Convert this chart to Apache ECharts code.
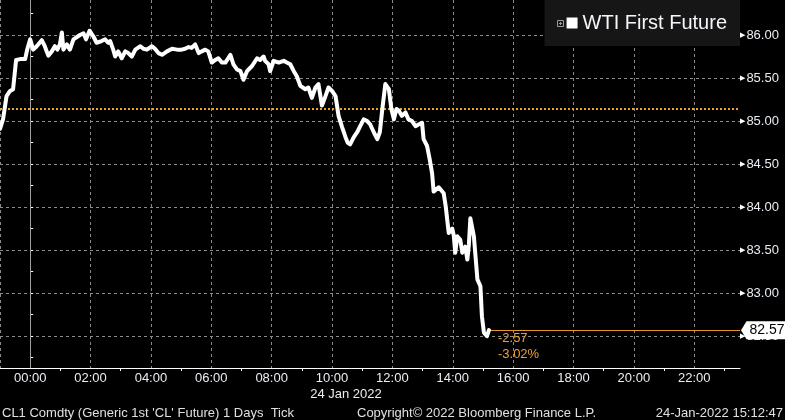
<!DOCTYPE html>
<html><head><meta charset="utf-8">
<script src="https://cdn.jsdelivr.net/npm/echarts@6/dist/echarts.min.js"></script>
<style>html,body{margin:0;padding:0;background:#000}#c{width:785px;height:420px}</style>
</head><body><div id="c"></div><script>
// Time in minutes from 00:00 on 24 Jan 2022 (negative = 23 Jan evening)
const times = [-60,-54,-47,-40,-34,-28,-20,-10,-6,0,6,13,23,29,36,43,49,54,59,63,66,73,79,86,99,106,111,118,126,132,142,149,155,159,165,169,175,182,189,195,202,209,219,225,232,242,248,255,262,272,282,292,301,308,315,321,328,335,341,348,354,361,368,374,381,388,398,404,411,418,424,431,441,451,457,464,467,474,477,484,494,504,510,517,524,527,530,537,547,553,560,567,573,580,587,593,600,607,613,620,627,631,636,643,650,656,663,670,676,683,690,695,700,706,713,718,723,728,733,739,746,752,759,766,772,779,782,789,794,799,802,812,822,826,832,839,842,845,849,855,859,865,869,872,875,882,889,895,898,902,908,912];
const prices = [84.91,85.02,85.29,85.35,85.37,85.71,85.72,85.72,85.83,85.95,85.83,85.87,85.94,85.87,85.76,85.81,85.87,85.83,85.89,86.03,85.83,85.89,85.83,85.95,86.00,86.02,85.95,86.05,85.98,85.91,85.93,85.95,85.91,85.93,85.83,85.75,85.81,85.73,85.81,85.79,85.75,85.83,85.87,85.84,85.83,85.87,85.84,85.79,85.77,85.81,85.84,85.83,85.83,85.84,85.86,85.85,85.89,85.79,85.81,85.83,85.81,85.68,85.71,85.73,85.68,85.68,85.77,85.66,85.60,85.58,85.48,85.58,85.64,85.73,85.71,85.75,85.70,85.66,85.58,85.70,85.68,85.70,85.68,85.66,85.58,85.60,85.52,85.41,85.37,85.39,85.27,85.39,85.43,85.18,85.29,85.39,85.35,85.29,85.06,84.93,84.81,84.75,84.73,84.81,84.87,84.94,85.02,85.00,84.96,84.87,84.79,84.87,85.14,85.43,85.37,85.14,85.02,85.14,85.12,85.06,85.10,85.02,85.00,84.94,84.96,84.98,84.79,84.71,84.56,84.39,84.18,84.23,84.16,84.01,83.70,83.75,83.67,83.47,83.66,83.62,83.47,83.54,83.39,83.56,83.87,83.66,83.16,83.08,82.73,82.54,82.50,82.57];
const prevClose = 85.14;
const seriesName = 'WTI First Future';
const xLabelTimes = ['00:00','02:00','04:00','06:00','08:00','10:00','12:00','14:00','16:00','18:00','20:00','22:00'];
const xMinorTimes = ['01:00','03:00','05:00','07:00','09:00','11:00','13:00','15:00','17:00','19:00','21:00','23:00'];
const yLabelValues = [82.5,83.0,83.5,84.0,84.5,85.0,85.5,86.0];
const yMinorValues = [82.25,82.75,83.25,83.75,84.25,84.75,85.25,85.75,86.25];
const xMin = -60, xMax = 1411, yMin = 82.13, yMax = 86.407;

const toMin = s => { const p = s.split(':'); return (+p[0])*60 + (+p[1]); };
const fmtTime = v => { const m = ((Math.round(v) % 1440) + 1440) % 1440; const h = Math.floor(m/60), mm = m%60; return (h<10?'0':'')+h+':'+(mm<10?'0':'')+mm; };
const xLabelValues = xLabelTimes.map(toMin);
const xMinorValues = xMinorTimes.map(toMin);
const last = prices.length - 1;
const change = prices[last] - prevClose;
const pct = change / prevClose * 100;

const FONT = '"Liberation Sans", Arial, sans-serif';
const GRID = '#8a8a8a';
const ORANGE = '#f0a030';

const chart = echarts.init(document.getElementById('c'));
chart.setOption({
  backgroundColor: '#000',
  animation: false,
  textStyle: { fontFamily: FONT },
  grid: { left: 0, right: 45, top: 0, bottom: 52, containLabel: false },
  legend: {
    right: 45, top: 0, selectedMode: false,
    data: [{ name: seriesName, icon: 'rect' }],
    itemWidth: 11, itemHeight: 11,
    padding: [13, 13, 13, 22],
    backgroundColor: '#161616',
    textStyle: { color: '#f4f6fa', fontSize: 20, fontFamily: FONT }
  },
  xAxis: [{
    type: 'value', min: xMin, max: xMax,
    axisLine: { show: true, lineStyle: { color: '#fff', width: 1 } },
    axisTick: { show: false, customValues: [xMin].concat(xLabelValues) },
    axisLabel: { customValues: xLabelValues, formatter: fmtTime, color: '#e9eef4', fontSize: 13, margin: 4, fontFamily: FONT },
    splitLine: { show: true, lineStyle: { color: GRID, type: [3, 3], width: 1 } }
  }, {
    type: 'value', min: xMin, max: xMax, position: 'bottom',
    axisLine: { show: false }, axisLabel: { show: false }, splitLine: { show: false },
    axisTick: { show: true, customValues: xMinorValues, length: 3, lineStyle: { color: '#fff' } }
  }],
  yAxis: [{
    type: 'value', position: 'right', min: yMin, max: yMax,
    axisLine: { show: true, lineStyle: { color: '#fff', width: 1 } },
    axisTick: { show: true, customValues: yLabelValues, length: 3, lineStyle: { color: '#fff', width: 1 } },
    axisLabel: {
      customValues: yLabelValues, margin: 0, color: '#e9eef4', fontSize: 13, fontFamily: FONT,
      formatter: v => '{a|▶}' + v.toFixed(2),
      rich: { a: { fontSize: 7, fontFamily: 'DejaVu Sans', color: '#fff', padding: [0, 1, 0, 0] } }
    },
    splitLine: { show: true, lineStyle: { color: GRID, type: [3, 3], width: 1 } }
  }, {
    type: 'value', position: 'right', min: yMin, max: yMax,
    axisLine: { show: false }, axisLabel: { show: false }, splitLine: { show: false },
    axisTick: { show: true, customValues: yMinorValues, length: 3, lineStyle: { color: '#fff' } }
  }],
  series: [{
    name: seriesName, type: 'line', xAxisIndex: 0, yAxisIndex: 0,
    data: times.map((t, i) => [t, prices[i]]),
    showSymbol: false, symbol: 'none',
    lineStyle: { color: '#fff', width: 4, join: 'round', cap: 'round' },
    itemStyle: { color: '#fff' },
    z: 5,
    markLine: {
      silent: true, symbol: 'none', animation: false, label: { show: false },
      data: [
        { xAxis: 0, lineStyle: { color: '#a0a0a0', type: 'solid', width: 1 } },
        { yAxis: prevClose, lineStyle: { color: ORANGE, type: [2, 2], width: 2 } },
        [{ coord: [times[last], prices[last]], lineStyle: { color: '#e8952e', type: 'solid', width: 1 } },
         { coord: [xMax, prices[last]] }]
      ]
    },
    markPoint: {
      silent: true, animation: false,
      data: [
        {
          coord: [xMax, prices[last]],
          symbol: 'path://M0,9 L6,0 L50,0 L50,18 L6,18 Z',
          symbolSize: [46, 18], symbolOffset: [24, 0],
          itemStyle: { color: '#fff' },
          label: { show: true, position: 'inside', offset: [3, 0], formatter: prices[last].toFixed(2), color: '#000', fontSize: 14, fontFamily: FONT }
        },
        {
          coord: [times[last], prices[last]],
          symbol: 'circle', symbolSize: 0.01,
          itemStyle: { color: 'rgba(0,0,0,0)' },
          label: {
            show: true, position: [9, 0], align: 'left', verticalAlign: 'top',
            formatter: change.toFixed(2) + '\n' + pct.toFixed(2) + '%',
            color: ORANGE, fontSize: 13, lineHeight: 16, fontFamily: FONT
          }
        }
      ]
    }
  }],
  graphic: [
    { type: 'rect', shape: { x: 557.5, y: 20.5, width: 6, height: 6 }, style: { fill: 'none', stroke: '#9a9a9a', lineWidth: 1 }, z: 100 },
    { type: 'line', shape: { x1: 559, y1: 23.5, x2: 562, y2: 23.5 }, style: { stroke: '#9a9a9a', lineWidth: 1 }, z: 100 },
    { type: 'line', shape: { x1: 560.5, y1: 22, x2: 560.5, y2: 25 }, style: { stroke: '#9a9a9a', lineWidth: 1 }, z: 100 },
    { type: 'text', x: 346, y: 394, style: { text: '24 Jan 2022', fill: '#e9eef4', fontSize: 13, fontFamily: FONT, align: 'center', verticalAlign: 'middle' } },
    { type: 'text', x: 2, y: 413, style: { text: "CL1 Comdty (Generic 1st 'CL' Future) 1 Days  Tick", fill: '#e0e0e0', fontSize: 13, fontFamily: FONT, align: 'left', verticalAlign: 'middle' } },
    { type: 'text', x: 357, y: 413, style: { text: 'Copyright© 2022 Bloomberg Finance L.P.', fill: '#e0e0e0', fontSize: 13, fontFamily: FONT, align: 'left', verticalAlign: 'middle' } },
    { type: 'text', x: 783, y: 413, style: { text: '24-Jan-2022 15:12:47', fill: '#e0e0e0', fontSize: 13, fontFamily: FONT, align: 'right', verticalAlign: 'middle' } }
  ]
});
</script></body></html>
